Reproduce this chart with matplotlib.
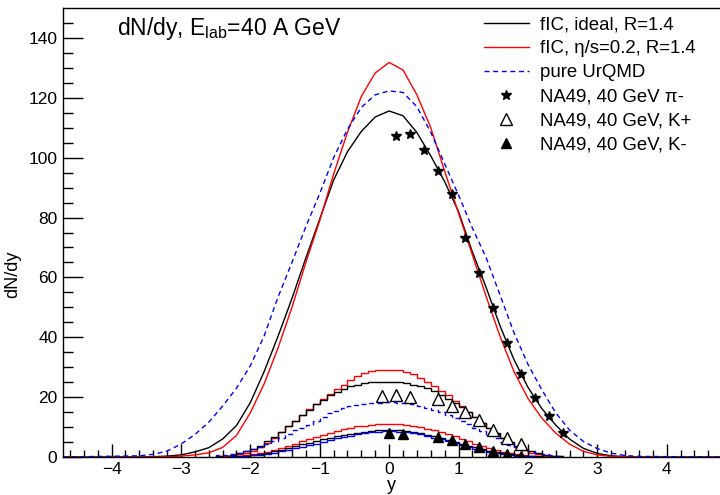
"""dN/dy of pi-, K+ and K- at E_lab = 40 A GeV: hybrid model (fIC, ideal / eta/s=0.2) vs pure UrQMD vs NA49."""

import numpy as np
import matplotlib
matplotlib.use("Agg")
import matplotlib.pyplot as plt

# --- pion curves (y grid, dN/dy) -----------------------------------------
Y_PI = [-4.7, -3.6, -3.4, -3.2, -3.0, -2.8, -2.6, -2.4, -2.2, -2.0, -1.8, -1.6, -1.4,
        -1.2, -1.0, -0.8, -0.6, -0.4, -0.2, 0.0, 0.2, 0.4, 0.6, 0.8, 1.0, 1.2, 1.4,
        1.6, 1.8, 2.0, 2.2, 2.4, 2.6, 2.8, 3.0, 3.2, 3.4, 3.6, 4.8]
PI_IDEAL = [0, 0.0, 0.1, 0.3, 0.7, 1.7, 3.1, 6.0, 10.5, 18.2, 28.6, 40.4, 53.0,
            66.5, 79.5, 92.5, 102.0, 108.8, 113.6, 115.6, 114.0, 108.4, 100.6, 92.0, 82.0, 68.5, 56.5,
            43.7, 32.5, 23.3, 16.2, 10.7, 6.0, 2.9, 1.2, 0.4, 0.1, 0.0, 0]
PI_VISC = [0, 0.0, 0.0, 0.1, 0.3, 0.7, 1.4, 3.2, 7.2, 14.8, 24.5, 36.5, 50.0,
           65.0, 79.0, 94.5, 108.5, 120.5, 128.3, 131.8, 129.3, 121.0, 110.0, 95.5, 81.5, 67.5, 53.5,
           40.2, 28.5, 19.6, 13.0, 8.0, 4.3, 1.9, 0.7, 0.2, 0.1, 0.0, 0]
PI_URQMD = [0, 0.4, 0.9, 2.0, 4.3, 7.5, 11.6, 17.0, 23.0, 30.5, 40.5, 53.5, 65.0,
            77.0, 88.0, 100.0, 109.5, 116.8, 121.0, 122.3, 121.8, 117.0, 108.5, 98.0, 87.5, 76.5, 66.5,
            54.0, 41.5, 31.0, 22.5, 14.8, 9.0, 5.2, 2.8, 1.3, 0.5, 0.2, 0]

# --- kaon histograms, 0.1 wide bins from -2.5 to 2.5 -----------------------
K_EDGES = np.linspace(-2.5, 2.5, 51)
KP_IDEAL = [0.3, 0.5, 0.8, 1.2, 1.9, 2.7, 3.8, 5.2, 6.7, 8.3, 10.2, 12.0, 14.0, 15.8, 17.6,
            19.2, 20.6, 21.8, 22.8, 23.6, 24.2, 24.6, 24.9, 25.1, 25.2, 25.2, 25.0, 24.7, 24.2,
            23.6, 22.9, 22.0, 20.8, 19.4, 18.0, 16.6, 15.0, 13.2, 11.4, 9.6, 7.9, 6.4, 5.0, 3.8,
            2.7, 1.9, 1.3, 0.8, 0.5, 0.3]
KP_VISC = [0.2, 0.3, 0.6, 0.9, 1.4, 2.1, 3.2, 4.8, 6.5, 8.3, 10.3, 12.0, 14.0, 16.0, 17.6,
           19.5, 21.2, 22.8, 24.2, 25.8, 27.0, 28.0, 28.6, 29.0, 29.2, 29.2, 29.0, 28.5, 27.6,
           26.5, 25.2, 23.8, 22.2, 20.6, 18.8, 17.0, 15.2, 13.3, 11.4, 9.6, 7.8, 6.2, 4.7, 3.4,
           2.3, 1.5, 1.0, 0.6, 0.4, 0.2]
KP_URQMD = [0.6, 0.8, 1.1, 1.5, 2.0, 2.7, 3.5, 4.4, 5.4, 6.5, 7.7, 8.9, 9.6, 10.8, 12.1,
            13.4, 14.6, 15.5, 16.3, 16.9, 17.4, 17.8, 18.1, 18.2, 18.3, 18.3, 18.2, 18.0, 17.6,
            17.1, 16.5, 15.8, 15.0, 14.1, 13.1, 12.1, 11.0, 9.8, 8.6, 7.4, 6.2, 5.1, 4.1, 3.2,
            2.4, 1.8, 1.3, 0.9, 0.6, 0.4]
KM_IDEAL = [0.1, 0.1, 0.2, 0.3, 0.5, 0.7, 1.0, 1.4, 1.9, 2.4, 3.0, 3.6, 4.2, 4.8, 5.3,
            5.9, 6.4, 6.9, 7.3, 7.7, 8.1, 8.4, 8.7, 8.9, 9.0, 9.0, 8.9, 8.7, 8.4,
            8.0, 7.5, 7.0, 6.4, 5.8, 5.1, 4.4, 3.8, 3.2, 2.6, 2.1, 1.7, 1.3, 0.9, 0.6,
            0.4, 0.3, 0.2, 0.1, 0.1, 0.0]
KM_VISC = [0.1, 0.2, 0.3, 0.4, 0.6, 0.9, 1.3, 1.8, 2.4, 3.0, 3.7, 4.4, 5.2, 6.0, 6.7,
           7.4, 8.1, 8.7, 9.3, 9.8, 10.2, 10.5, 10.8, 10.9, 11.0, 11.0, 10.9, 10.7, 10.4,
           10.0, 9.5, 8.9, 8.3, 7.6, 6.9, 6.1, 5.3, 4.5, 3.8, 3.1, 2.4, 1.8, 1.3, 0.9,
           0.6, 0.4, 0.3, 0.2, 0.1, 0.1]
KM_URQMD = [0.1, 0.1, 0.2, 0.3, 0.4, 0.6, 0.8, 1.1, 1.5, 1.9, 2.4, 2.9, 3.4, 3.9, 4.4,
            5.0, 5.6, 6.2, 6.7, 7.1, 7.6, 8.0, 8.3, 8.5, 8.6, 8.6, 8.5, 8.3, 8.0,
            7.6, 7.1, 6.5, 5.9, 5.2, 4.6, 3.9, 3.3, 2.7, 2.2, 1.7, 1.3, 1.0, 0.7, 0.5,
            0.3, 0.2, 0.1, 0.1, 0.0, 0.0]

# --- NA49 data -----------------------------------------------------------
NA49_PI_Y = [0.1, 0.3, 0.5, 0.7, 0.9, 1.1, 1.3, 1.5, 1.7, 1.9, 2.1, 2.3, 2.5]
NA49_PI = [107.3, 108.0, 102.7, 95.7, 88.0, 73.1, 61.4, 49.9, 38.2, 27.7, 19.8, 13.7, 7.9]
NA49_KP_Y = [-0.1, 0.1, 0.3, 0.7, 0.9, 1.1, 1.3, 1.5, 1.7, 1.9]
NA49_KP = [20.5, 20.7, 20.2, 19.4, 17.2, 15.2, 12.2, 9.1, 6.5, 4.5]
NA49_KM_Y = [0.0, 0.2, 0.7, 0.9, 1.1, 1.3, 1.5, 1.7, 1.9]
NA49_KM = [8.0, 7.8, 6.7, 5.6, 4.4, 3.3, 2.1, 1.1, 0.5]

BLUE, RED, BLACK = "#0000ff", "#ff0000", "#000000"
DASH = (0, (3.6, 2.6))

plt.rcParams["font.family"] = ["Liberation Sans", "DejaVu Sans"]
plt.rcParams["mathtext.fontset"] = "custom"
plt.rcParams["mathtext.rm"] = "Liberation Sans"
plt.rcParams["mathtext.it"] = "Liberation Sans"

fig = plt.figure(figsize=(7.2, 4.95), dpi=100)
ax = fig.add_axes([63 / 720, 38 / 495, 659.2 / 720, 449 / 495])

# kaon histograms
ax.stairs(KP_VISC, K_EDGES, color=RED, lw=1.0)
ax.stairs(KP_IDEAL, K_EDGES, color=BLACK, lw=1.0)
ax.stairs(KP_URQMD, K_EDGES, color=BLUE, lw=1.0, linestyle=DASH)
ax.stairs(KM_VISC, K_EDGES, color=RED, lw=1.0)
ax.stairs(KM_IDEAL, K_EDGES, color=BLACK, lw=1.0)
ax.stairs(KM_URQMD, K_EDGES, color=BLUE, lw=1.0)

# pion curves
ax.plot(Y_PI, PI_IDEAL, color=BLACK, lw=1.0, label="fIC, ideal, R=1.4")
ax.plot(Y_PI, PI_VISC, color=RED, lw=1.0, label="fIC, η/s=0.2, R=1.4")
ax.plot(Y_PI, PI_URQMD, color=BLUE, lw=1.0, linestyle=DASH, label="pure UrQMD")

ax.plot(NA49_PI_Y, NA49_PI, ls="none", marker="*", ms=7, color=BLACK,
        label="NA49, 40 GeV π-")
ax.plot(NA49_KP_Y, NA49_KP, ls="none", marker="^", ms=8.5, mfc="white", mec=BLACK,
        mew=1.0, label="NA49, 40 GeV, K+")
ax.plot(NA49_KM_Y, NA49_KM, ls="none", marker="^", ms=7.5, color=BLACK,
        label="NA49, 40 GeV, K-")

ax.set_xlim(-4.7, 4.8)
ax.set_ylim(0, 150)
ax.set_xticks(np.arange(-4, 5, 1))
ax.set_xticks(np.arange(-4.6, 4.8, 0.2), minor=True)
ax.set_yticks(np.arange(0, 141, 20))
ax.set_yticks(np.arange(0, 150, 5), minor=True)
ax.tick_params(axis="x", which="major", direction="in", length=9.4, width=1, labelsize=12.5, pad=3.5)
ax.tick_params(axis="x", which="minor", direction="in", length=5, width=1)
ax.tick_params(axis="y", which="major", direction="in", length=14.4, width=1, labelsize=12.5, pad=4)
ax.tick_params(axis="y", which="minor", direction="in", length=7.2, width=1)
for s in ax.spines.values():
    s.set_linewidth(1.0)

ax.set_xlabel("y", fontsize=13, va="baseline")
ax.xaxis.set_label_coords((391 - 63) / 659.2, (457 - 490) / 449)
ax.set_ylabel("dN/dy", fontsize=13, va="center")
ax.yaxis.set_label_coords((13 - 63) / 659.2, (457 - 274) / 449)

fig.text(117 / 720, (495 - 35) / 495, r"dN/dy, E$_{\rm lab}$=40 A GeV", fontsize=16.5,
         va="baseline", ha="left")

ax.legend(loc="upper left", bbox_to_anchor=((484 - 63) / 659.2, 1 - 8 / 449), frameon=False,
          fontsize=13.4, handlelength=2.4, handletextpad=0.6, labelspacing=0.38,
          borderpad=0, borderaxespad=0, numpoints=1)

fig.savefig("out.png", dpi=100)
